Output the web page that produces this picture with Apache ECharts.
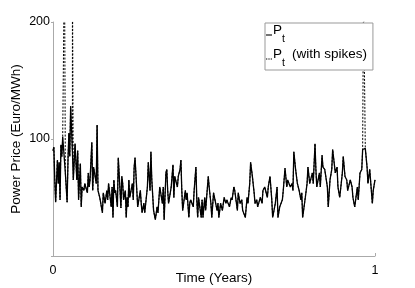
<!DOCTYPE html>
<html><head><meta charset="utf-8">
<script src="https://cdn.jsdelivr.net/npm/echarts@6/dist/echarts.min.js"></script>
<style>html,body{margin:0;padding:0;background:#fff}#c{width:415px;height:288px}</style>
</head><body><div id="c"></div>
<script>
// Day of year (0..365) and price (Euro/MWh)
const days = [
0,1,2,3,5,6,7,8,9,10,11,14,16,17,18,19,20,22,23,25,
27,28,29,31,32,33,35,36,39,40,41,42,44,45,46,49,50,51,53,56,
57,59,61,62,63,66,67,68,69,70,71,73,74,76,77,78,79,80,82,83,
84,85,86,87,90,91,92,93,95,96,99,100,101,103,104,107,108,110,111,112,
114,116,118,119,121,124,125,126,128,129,130,131,134,136,137,138,141,142,144,145,
146,147,150,151,152,154,155,156,159,160,162,163,164,165,168,169,170,172,173,176,
177,179,180,182,184,186,187,188,190,192,194,196,197,200,202,203,205,206,209,210,
212,214,215,218,220,221,223,224,226,228,229,231,232,235,237,238,240,243,244,246,
248,249,252,254,255,257,260,261,263,265,266,269,271,272,273,275,277,279,281,282,
283,286,288,289,291,294,295,297,298,299,302,303,305,306,308,311,312,314,316,317,
320,322,323,325,328,329,331,333,334,337,339,340,342,345,346,348,350,351,354,356,
357,359,362,363,365
];
const prices = [
90,93,65,46,82,62,80,48,95,85,102,71,46,82,105,85,128,90,65,96,
65,90,48,79,42,59,56,62,54,71,59,65,97,56,76,62,112,56,50,37,
54,45,56,48,62,42,59,33,65,54,56,42,84,56,41,68,62,48,56,33,
50,42,65,50,62,48,76,84,56,42,56,45,37,45,37,59,80,56,89,65,
39,31,42,37,59,45,59,31,71,74,56,45,59,78,50,68,59,68,74,82,
56,39,56,48,54,33,45,48,42,56,76,48,33,50,33,48,33,50,39,68,
59,45,33,54,54,39,45,33,45,39,50,45,48,42,50,48,59,56,39,54,
45,48,39,33,50,45,62,80,68,54,45,48,42,50,45,56,59,50,59,68,
48,33,45,59,33,42,48,56,75,59,65,59,62,56,89,74,62,56,48,54,
33,50,62,76,62,71,62,96,74,59,71,59,86,76,74,59,42,65,74,91,
71,76,59,50,71,85,68,65,56,65,59,50,42,59,48,71,74,91,92,76,
62,74,45,56,65
];
// spikes added in the "with spikes" series
const spikeDays = [13, 22, 352];
const spikePrices = [260, 250, 230];
const xTicks = [0, 1];
const yTicks = [100, 200];

const basePts = days.map((d, i) => [d / 365, prices[i]]);
const spikePts = basePts.concat(spikeDays.map((d, i) => [d / 365, spikePrices[i]]))
  .sort((a, b) => a[0] - b[0]);

const FONT = 'Liberation Sans, Arial, Helvetica, sans-serif';
const chart = echarts.init(document.getElementById('c'), null, {renderer: 'canvas'});
chart.setOption({
  animation: false,
  backgroundColor: '#fff',
  textStyle: {fontFamily: FONT},
  grid: {left: 53, right: 40, top: 22, bottom: 32, containLabel: false, outerBoundsMode: 'none'},
  xAxis: {
    type: 'value', min: xTicks[0], max: xTicks[xTicks.length - 1], interval: 1,
    name: 'Time (Years)', nameLocation: 'middle', nameGap: 15, nameMoveOverlap: false,
    nameTextStyle: {fontSize: 13.5, color: '#000', fontFamily: FONT},
    axisLine: {show: true, lineStyle: {color: '#aaa', width: 1}},
    axisTick: {show: true, inside: true, length: 3, lineStyle: {color: '#aaa'}},
    axisLabel: {fontSize: 12.5, color: '#000', margin: 8, fontFamily: FONT},
    splitLine: {show: false}
  },
  yAxis: {
    type: 'value', min: 0, max: yTicks[yTicks.length - 1], interval: 100,
    name: 'Power Price (Euro/MWh)', nameLocation: 'middle', nameGap: 30, nameMoveOverlap: false,
    nameTextStyle: {fontSize: 13.5, color: '#000', fontFamily: FONT},
    axisLine: {show: true, lineStyle: {color: '#aaa', width: 1}},
    axisTick: {show: true, inside: false, length: 2, lineStyle: {color: '#aaa'}},
    axisLabel: {fontSize: 12.5, color: '#000', margin: 3, fontFamily: FONT,
      formatter: v => (yTicks.indexOf(v) >= 0 ? String(v) : '')},
    splitLine: {show: false}
  },
  legend: {
    data: [
      {name: 'P_t', icon: 'path://M0,5h6v1.1h-6z'},
      {name: 'P_t (with spikes)', icon: 'path://M0,5h1.3v1.1h-1.3zM2.35,5h1.3v1.1h-1.3zM4.7,5h1.3v1.1h-1.3z'}
    ],
    orient: 'vertical', left: 265, top: 23,
    padding: [0, 6, 1, 1],
    itemWidth: 6, itemHeight: 12, itemGap: 2,
    backgroundColor: '#fff', borderColor: '#999', borderWidth: 1, borderRadius: 0,
    itemStyle: {color: '#000'},
    formatter: name => name === 'P_t' ? '{p|P}{s|t}' : '{p|P}{s|t}{q|(with spikes)}',
    textStyle: {
      color: '#000', fontFamily: FONT, padding: [0, 0, 0, -4],
      rich: {
        p: {fontSize: 13.5, fontFamily: FONT, color: '#000', height: 9, lineHeight: 19, verticalAlign: 'top'},
        s: {fontSize: 10.5, fontFamily: FONT, color: '#000', height: 10, lineHeight: 19, verticalAlign: 'bottom'},
        q: {fontSize: 13.5, fontFamily: FONT, color: '#000', height: 9, lineHeight: 19, verticalAlign: 'top', padding: [0, 0, 0, 7]}
      }
    }
  },
  series: [
    {
      name: 'P_t (with spikes)', type: 'line', data: spikePts, symbol: 'none', showSymbol: false,
      z: 2, clip: true, itemStyle: {color: '#000'},
      lineStyle: {color: '#000', width: 1, type: [2, 1.5]}
    },
    {
      name: 'P_t', type: 'line', data: basePts, symbol: 'none', showSymbol: false,
      z: 3, clip: true, itemStyle: {color: '#000'},
      lineStyle: {color: '#000', width: 1.3}
    }
  ]
});
</script>
</body></html>
